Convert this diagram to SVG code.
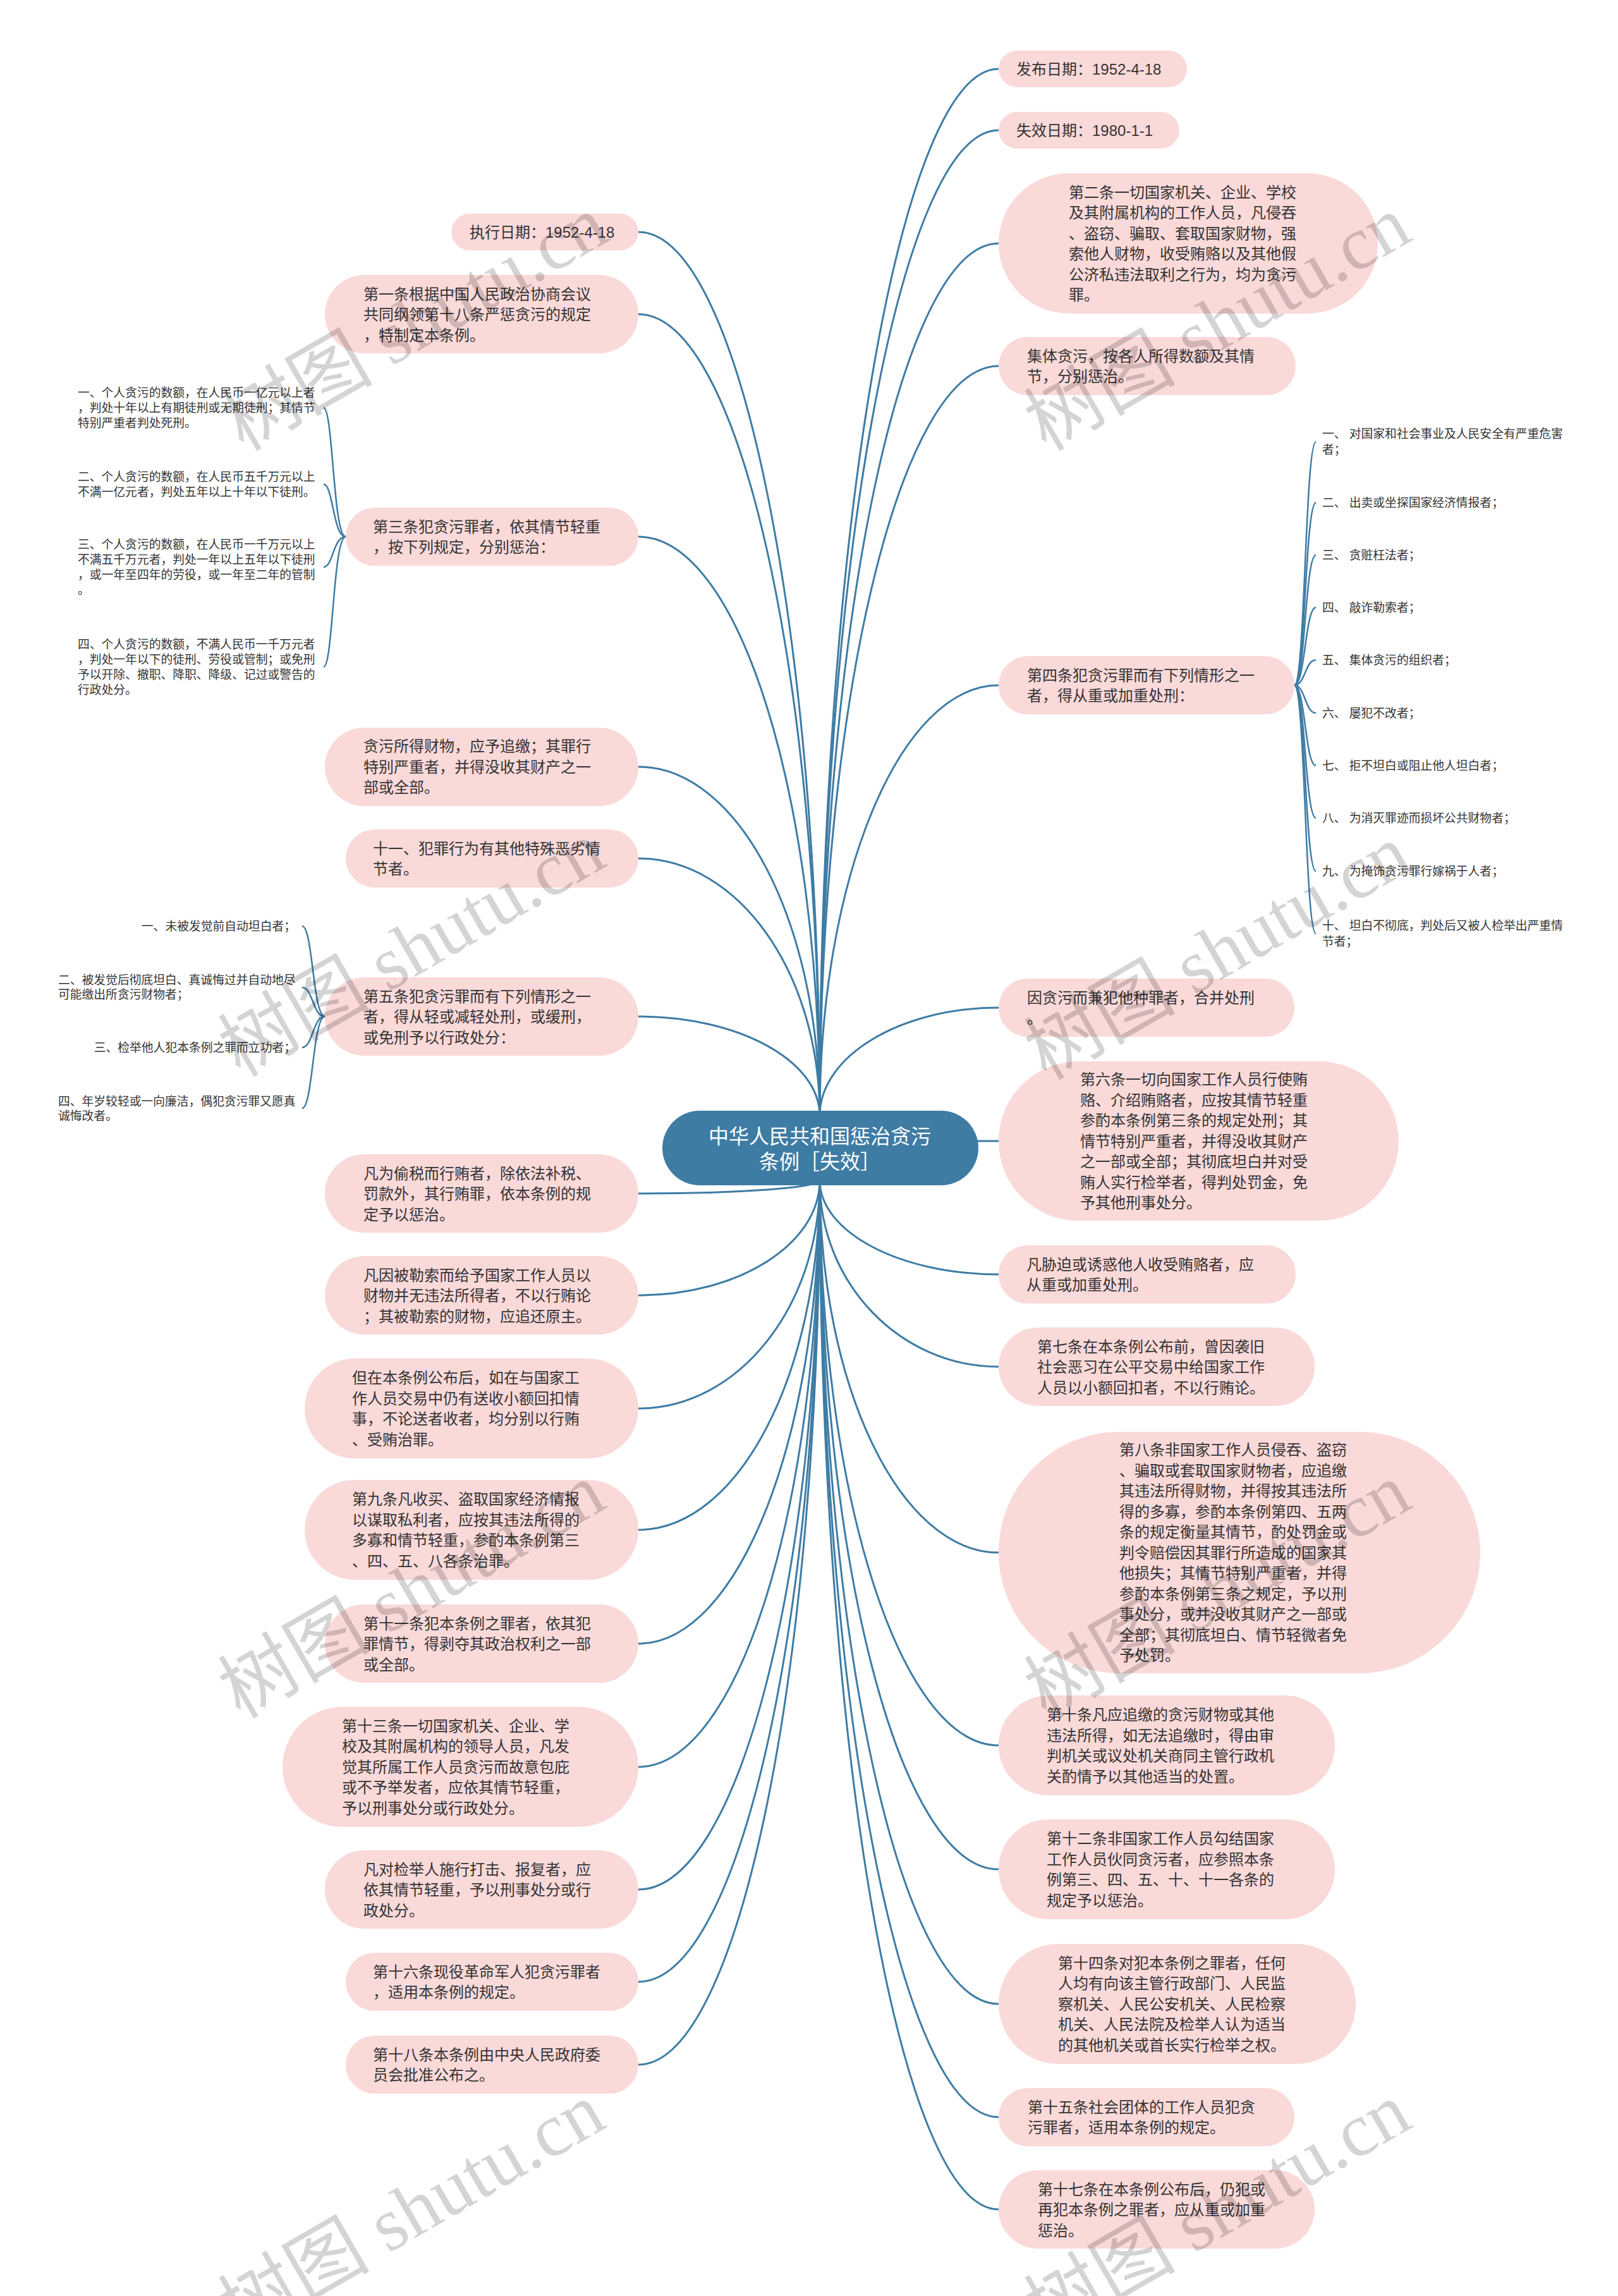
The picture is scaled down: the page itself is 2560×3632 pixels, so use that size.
<svg xmlns="http://www.w3.org/2000/svg" width="2560" height="3632" viewBox="0 0 2560 3632">
<style>
.bg{fill:#ffffff}
.n{fill:#fad9d9}
.c{fill:#3e7ca4}
.t{font-family:"Liberation Sans","Noto Sans CJK SC",sans-serif;font-size:24px;fill:#333333}
.ct{font-family:"Liberation Sans","Noto Sans CJK SC",sans-serif;font-size:32px;fill:#ffffff;text-anchor:middle}
.lf{font-family:"Liberation Sans","Noto Sans CJK SC",sans-serif;font-size:18.8px;fill:#333333}
.ln{fill:none;stroke:#3e7ca4;stroke-width:3}
.br{fill:none;stroke:#3e7ca4;stroke-width:2.5}
.wm{font-family:"Liberation Serif","Noto Sans CJK SC",serif;font-size:120px;fill:#000000;fill-opacity:0.17}
</style>
<rect class="bg" x="0" y="0" width="2560" height="3632"/>
<g id="connectors">
<path class="ln" d="M1297 1765 C1297 850 1424 109 1580 109"/>
<path class="ln" d="M1297 1765 C1297 904 1424 206 1580 206"/>
<path class="ln" d="M1297 1765 C1297 1003 1424 385 1580 385"/>
<path class="ln" d="M1297 1765 C1297 1110 1424 579 1580 579"/>
<path class="ln" d="M1297 1765 C1297 1389 1424 1084 1580 1084"/>
<path class="ln" d="M1297 1765 C1297 1671 1424 1594 1580 1594"/>
<path class="ln" d="M1297 1805 L1580 1805"/>
<path class="ln" d="M1297 1867 C1297 1949 1424 2016 1580 2016"/>
<path class="ln" d="M1297 1867 C1297 2030 1424 2162 1580 2162"/>
<path class="ln" d="M1297 1867 C1297 2192 1424 2456 1580 2456"/>
<path class="ln" d="M1297 1867 C1297 2361 1424 2761 1580 2761"/>
<path class="ln" d="M1297 1867 C1297 2469 1424 2957 1580 2957"/>
<path class="ln" d="M1297 1867 C1297 2587 1424 3170 1580 3170"/>
<path class="ln" d="M1297 1867 C1297 2686 1424 3349 1580 3349"/>
<path class="ln" d="M1297 1867 C1297 2766 1424 3495 1580 3495"/>
<path class="ln" d="M1297 1765 C1297 993 1169 367 1010 367"/>
<path class="ln" d="M1297 1765 C1297 1065 1169 497 1010 497"/>
<path class="ln" d="M1297 1765 C1297 1259 1169 849 1010 849"/>
<path class="ln" d="M1297 1765 C1297 1460 1169 1213 1010 1213"/>
<path class="ln" d="M1297 1765 C1297 1540 1169 1358 1010 1358"/>
<path class="ln" d="M1297 1765 C1297 1678 1169 1608 1010 1608"/>
<path class="ln" d="M1297 1867 C1297 1879 1169 1888 1010 1888"/>
<path class="ln" d="M1297 1867 C1297 1968 1169 2049 1010 2049"/>
<path class="ln" d="M1297 1867 C1297 2066 1169 2228 1010 2228"/>
<path class="ln" d="M1297 1867 C1297 2172 1169 2420 1010 2420"/>
<path class="ln" d="M1297 1867 C1297 2272 1169 2600 1010 2600"/>
<path class="ln" d="M1297 1867 C1297 2380 1169 2795 1010 2795"/>
<path class="ln" d="M1297 1867 C1297 2487 1169 2989 1010 2989"/>
<path class="ln" d="M1297 1867 C1297 2567 1169 3135 1010 3135"/>
<path class="ln" d="M1297 1867 C1297 2640 1169 3266 1010 3266"/>
<path class="br" d="M547 849 C527 849 527 645 512 645"/>
<path class="br" d="M547 849 C527 849 527 766 512 766"/>
<path class="br" d="M547 849 C527 849 527 897 512 897"/>
<path class="br" d="M547 849 C527 849 527 1055 512 1055"/>
<path class="br" d="M514 1608 C495 1608 495 1465 478 1465"/>
<path class="br" d="M514 1608 C495 1608 495 1562 478 1562"/>
<path class="br" d="M514 1608 C495 1608 495 1657 478 1657"/>
<path class="br" d="M514 1608 C495 1608 495 1753 478 1753"/>
<path class="br" d="M2048 1084 C2065 1084 2065 699 2082 699"/>
<path class="br" d="M2048 1084 C2065 1084 2065 795 2082 795"/>
<path class="br" d="M2048 1084 C2065 1084 2065 878 2082 878"/>
<path class="br" d="M2048 1084 C2065 1084 2065 961 2082 961"/>
<path class="br" d="M2048 1084 C2065 1084 2065 1044 2082 1044"/>
<path class="br" d="M2048 1084 C2065 1084 2065 1128 2082 1128"/>
<path class="br" d="M2048 1084 C2065 1084 2065 1211 2082 1211"/>
<path class="br" d="M2048 1084 C2065 1084 2065 1294 2082 1294"/>
<path class="br" d="M2048 1084 C2065 1084 2065 1378 2082 1378"/>
<path class="br" d="M2048 1084 C2065 1084 2065 1477 2082 1477"/>
</g>
<g id="root">
<rect class="c" x="1048" y="1757" width="500" height="118" rx="59"/>
<text class="ct"><tspan x="1297" y="1809">中华人民共和国惩治贪污</tspan><tspan x="1297" y="1849">条例［失效］</tspan></text>
</g>
<g id="n-zhixing"><rect class="n" x="714" y="338" width="296" height="58" rx="29"/>
<text class="t" x="743" y="376">执行日期：1952-4-18</text></g>
<g id="n-1"><rect class="n" x="514" y="435" width="496" height="124" rx="62"/>
<text class="t"><tspan x="575" y="474">第一条根据中国人民政治协商会议</tspan><tspan x="575" y="506">共同纲领第十八条严惩贪污的规定</tspan><tspan x="575" y="539">，特制定本条例。</tspan></text></g>
<g id="n-3"><rect class="n" x="547" y="803" width="463" height="92" rx="46"/>
<text class="t"><tspan x="590" y="842">第三条犯贪污罪者，依其情节轻重</tspan><tspan x="590" y="874">，按下列规定，分别惩治：</tspan></text></g>
<g id="n-3-1"><text class="lf"><tspan x="123" y="628">一、个人贪污的数额，在人民币一亿元以上者</tspan><tspan x="123" y="652">，判处十年以上有期徒刑或无期徒刑；其情节</tspan><tspan x="123" y="676">特别严重者判处死刑。</tspan></text></g>
<g id="n-3-2"><text class="lf"><tspan x="123" y="761">二、个人贪污的数额，在人民币五千万元以上</tspan><tspan x="123" y="785">不满一亿元者，判处五年以上十年以下徒刑。</tspan></text></g>
<g id="n-3-3"><text class="lf"><tspan x="123" y="868">三、个人贪污的数额，在人民币一千万元以上</tspan><tspan x="123" y="892">不满五千万元者，判处一年以上五年以下徒刑</tspan><tspan x="123" y="916">，或一年至四年的劳役，或一年至二年的管制</tspan><tspan x="123" y="940">。</tspan></text></g>
<g id="n-3-4"><text class="lf"><tspan x="123" y="1026">四、个人贪污的数额，不满人民币一千万元者</tspan><tspan x="123" y="1050">，判处一年以下的徒刑、劳役或管制；或免刑</tspan><tspan x="123" y="1074">予以开除、撤职、降职、降级、记过或警告的</tspan><tspan x="123" y="1098">行政处分。</tspan></text></g>
<g id="n-zhuijiao"><rect class="n" x="514" y="1151" width="496" height="124" rx="62"/>
<text class="t"><tspan x="575" y="1189">贪污所得财物，应予追缴；其罪行</tspan><tspan x="575" y="1222">特别严重者，并得没收其财产之一</tspan><tspan x="575" y="1254">部或全部。</tspan></text></g>
<g id="n-11x"><rect class="n" x="547" y="1312" width="463" height="92" rx="46"/>
<text class="t"><tspan x="590" y="1351">十一、犯罪行为有其他特殊恶劣情</tspan><tspan x="590" y="1383">节者。</tspan></text></g>
<g id="n-5"><rect class="n" x="514" y="1546" width="496" height="124" rx="62"/>
<text class="t"><tspan x="575" y="1585">第五条犯贪污罪而有下列情形之一</tspan><tspan x="575" y="1617">者，得从轻或减轻处刑，或缓刑，</tspan><tspan x="575" y="1650">或免刑予以行政处分：</tspan></text></g>
<g id="n-5-1"><text class="lf" x="468" y="1472" text-anchor="end">一、未被发觉前自动坦白者；</text></g>
<g id="n-5-2"><text class="lf"><tspan x="92" y="1557">二、被发觉后彻底坦白、真诚悔过并自动地尽</tspan><tspan x="92" y="1580">可能缴出所贪污财物者；</tspan></text></g>
<g id="n-5-3"><text class="lf" x="468" y="1664" text-anchor="end">三、检举他人犯本条例之罪而立功者；</text></g>
<g id="n-5-4"><text class="lf"><tspan x="92" y="1749">四、年岁较轻或一向廉洁，偶犯贪污罪又愿真</tspan><tspan x="92" y="1772">诚悔改者。</tspan></text></g>
<g id="n-toushui"><rect class="n" x="514" y="1826" width="496" height="124" rx="62"/>
<text class="t"><tspan x="575" y="1865">凡为偷税而行贿者，除依法补税、</tspan><tspan x="575" y="1897">罚款外，其行贿罪，依本条例的规</tspan><tspan x="575" y="1930">定予以惩治。</tspan></text></g>
<g id="n-lesuo"><rect class="n" x="514" y="1987" width="496" height="124" rx="62"/>
<text class="t"><tspan x="575" y="2026">凡因被勒索而给予国家工作人员以</tspan><tspan x="575" y="2058">财物并无违法所得者，不以行贿论</tspan><tspan x="575" y="2091">；其被勒索的财物，应追还原主。</tspan></text></g>
<g id="n-huikou"><rect class="n" x="482" y="2149" width="528" height="158" rx="79"/>
<text class="t"><tspan x="557" y="2188">但在本条例公布后，如在与国家工</tspan><tspan x="557" y="2221">作人员交易中仍有送收小额回扣情</tspan><tspan x="557" y="2253">事，不论送者收者，均分别以行贿</tspan><tspan x="557" y="2286">、受贿治罪。</tspan></text></g>
<g id="n-9"><rect class="n" x="482" y="2341" width="528" height="158" rx="79"/>
<text class="t"><tspan x="557" y="2380">第九条凡收买、盗取国家经济情报</tspan><tspan x="557" y="2413">以谋取私利者，应按其违法所得的</tspan><tspan x="557" y="2445">多寡和情节轻重，参酌本条例第三</tspan><tspan x="557" y="2478">、四、五、八各条治罪。</tspan></text></g>
<g id="n-11"><rect class="n" x="514" y="2538" width="496" height="124" rx="62"/>
<text class="t"><tspan x="575" y="2577">第十一条犯本条例之罪者，依其犯</tspan><tspan x="575" y="2609">罪情节，得剥夺其政治权利之一部</tspan><tspan x="575" y="2642">或全部。</tspan></text></g>
<g id="n-13"><rect class="n" x="447" y="2700" width="563" height="190" rx="95"/>
<text class="t"><tspan x="541" y="2739">第十三条一切国家机关、企业、学</tspan><tspan x="541" y="2771">校及其附属机构的领导人员，凡发</tspan><tspan x="541" y="2804">觉其所属工作人员贪污而故意包庇</tspan><tspan x="541" y="2836">或不予举发者，应依其情节轻重，</tspan><tspan x="541" y="2869">予以刑事处分或行政处分。</tspan></text></g>
<g id="n-baofu"><rect class="n" x="514" y="2927" width="496" height="124" rx="62"/>
<text class="t"><tspan x="575" y="2966">凡对检举人施行打击、报复者，应</tspan><tspan x="575" y="2998">依其情节轻重，予以刑事处分或行</tspan><tspan x="575" y="3031">政处分。</tspan></text></g>
<g id="n-16"><rect class="n" x="547" y="3089" width="463" height="92" rx="46"/>
<text class="t"><tspan x="590" y="3128">第十六条现役革命军人犯贪污罪者</tspan><tspan x="590" y="3160">，适用本条例的规定。</tspan></text></g>
<g id="n-18"><rect class="n" x="547" y="3220" width="463" height="92" rx="46"/>
<text class="t"><tspan x="590" y="3259">第十八条本条例由中央人民政府委</tspan><tspan x="590" y="3291">员会批准公布之。</tspan></text></g>
<g id="n-fabu"><rect class="n" x="1580" y="80" width="298" height="58" rx="29"/>
<text class="t" x="1608" y="118">发布日期：1952-4-18</text></g>
<g id="n-shixiao"><rect class="n" x="1580" y="177" width="286" height="58" rx="29"/>
<text class="t" x="1608" y="215">失效日期：1980-1-1</text></g>
<g id="n-2"><rect class="n" x="1580" y="274" width="600" height="222" rx="111"/>
<text class="t"><tspan x="1691" y="313">第二条一切国家机关、企业、学校</tspan><tspan x="1691" y="345">及其附属机构的工作人员，凡侵吞</tspan><tspan x="1691" y="378">、盗窃、骗取、套取国家财物，强</tspan><tspan x="1691" y="410">索他人财物，收受贿赂以及其他假</tspan><tspan x="1691" y="443">公济私违法取利之行为，均为贪污</tspan><tspan x="1691" y="475">罪。</tspan></text></g>
<g id="n-jiti"><rect class="n" x="1580" y="533" width="470" height="92" rx="46"/>
<text class="t"><tspan x="1625" y="572">集体贪污，按各人所得数额及其情</tspan><tspan x="1625" y="604">节，分别惩治。</tspan></text></g>
<g id="n-4"><rect class="n" x="1580" y="1038" width="468" height="92" rx="46"/>
<text class="t"><tspan x="1625" y="1077">第四条犯贪污罪而有下列情形之一</tspan><tspan x="1625" y="1109">者，得从重或加重处刑：</tspan></text></g>
<g id="n-4-1"><text class="lf"><tspan x="2092" y="693">一、 对国家和社会事业及人民安全有严重危害</tspan><tspan x="2092" y="718">者；</tspan></text></g>
<g id="n-4-2"><text class="lf" x="2092" y="802">二、 出卖或坐探国家经济情报者；</text></g>
<g id="n-4-3"><text class="lf" x="2092" y="885">三、 贪赃枉法者；</text></g>
<g id="n-4-4"><text class="lf" x="2092" y="968">四、 敲诈勒索者；</text></g>
<g id="n-4-5"><text class="lf" x="2092" y="1051">五、 集体贪污的组织者；</text></g>
<g id="n-4-6"><text class="lf" x="2092" y="1135">六、 屡犯不改者；</text></g>
<g id="n-4-7"><text class="lf" x="2092" y="1218">七、 拒不坦白或阻止他人坦白者；</text></g>
<g id="n-4-8"><text class="lf" x="2092" y="1301">八、 为消灭罪迹而损坏公共财物者；</text></g>
<g id="n-4-9"><text class="lf" x="2092" y="1385">九、 为掩饰贪污罪行嫁祸于人者；</text></g>
<g id="n-4-10"><text class="lf"><tspan x="2092" y="1471">十、 坦白不彻底，判处后又被人检举出严重情</tspan><tspan x="2092" y="1496">节者；</tspan></text></g>
<g id="n-jianfan"><rect class="n" x="1580" y="1548" width="468" height="92" rx="46"/>
<text class="t"><tspan x="1625" y="1587">因贪污而兼犯他种罪者，合并处刑</tspan><tspan x="1625" y="1619">。</tspan></text></g>
<g id="n-6"><rect class="n" x="1580" y="1679" width="633" height="252" rx="126"/>
<text class="t"><tspan x="1709" y="1716">第六条一切向国家工作人员行使贿</tspan><tspan x="1709" y="1749">赂、介绍贿赂者，应按其情节轻重</tspan><tspan x="1709" y="1781">参酌本条例第三条的规定处刑；其</tspan><tspan x="1709" y="1814">情节特别严重者，并得没收其财产</tspan><tspan x="1709" y="1846">之一部或全部；其彻底坦白并对受</tspan><tspan x="1709" y="1879">贿人实行检举者，得判处罚金，免</tspan><tspan x="1709" y="1911">予其他刑事处分。</tspan></text></g>
<g id="n-xiepo"><rect class="n" x="1580" y="1970" width="470" height="92" rx="46"/>
<text class="t"><tspan x="1624" y="2009">凡胁迫或诱惑他人收受贿赂者，应</tspan><tspan x="1624" y="2041">从重或加重处刑。</tspan></text></g>
<g id="n-7"><rect class="n" x="1580" y="2100" width="500" height="124" rx="62"/>
<text class="t"><tspan x="1641" y="2139">第七条在本条例公布前，曾因袭旧</tspan><tspan x="1641" y="2171">社会恶习在公平交易中给国家工作</tspan><tspan x="1641" y="2204">人员以小额回扣者，不以行贿论。</tspan></text></g>
<g id="n-8"><rect class="n" x="1580" y="2265" width="762" height="382" rx="191"/>
<text class="t"><tspan x="1771" y="2302">第八条非国家工作人员侵吞、盗窃</tspan><tspan x="1771" y="2335">、骗取或套取国家财物者，应追缴</tspan><tspan x="1771" y="2367">其违法所得财物，并得按其违法所</tspan><tspan x="1771" y="2400">得的多寡，参酌本条例第四、五两</tspan><tspan x="1771" y="2432">条的规定衡量其情节，酌处罚金或</tspan><tspan x="1771" y="2465">判令赔偿因其罪行所造成的国家其</tspan><tspan x="1771" y="2497">他损失；其情节特别严重者，并得</tspan><tspan x="1771" y="2530">参酌本条例第三条之规定，予以刑</tspan><tspan x="1771" y="2562">事处分，或并没收其财产之一部或</tspan><tspan x="1771" y="2595">全部；其彻底坦白、情节轻微者免</tspan><tspan x="1771" y="2627">予处罚。</tspan></text></g>
<g id="n-10"><rect class="n" x="1580" y="2682" width="532" height="158" rx="79"/>
<text class="t"><tspan x="1656" y="2721">第十条凡应追缴的贪污财物或其他</tspan><tspan x="1656" y="2754">违法所得，如无法追缴时，得由审</tspan><tspan x="1656" y="2786">判机关或议处机关商同主管行政机</tspan><tspan x="1656" y="2819">关酌情予以其他适当的处置。</tspan></text></g>
<g id="n-12"><rect class="n" x="1580" y="2878" width="532" height="158" rx="79"/>
<text class="t"><tspan x="1656" y="2917">第十二条非国家工作人员勾结国家</tspan><tspan x="1656" y="2950">工作人员伙同贪污者，应参照本条</tspan><tspan x="1656" y="2982">例第三、四、五、十、十一各条的</tspan><tspan x="1656" y="3015">规定予以惩治。</tspan></text></g>
<g id="n-14"><rect class="n" x="1580" y="3075" width="565" height="190" rx="95"/>
<text class="t"><tspan x="1674" y="3114">第十四条对犯本条例之罪者，任何</tspan><tspan x="1674" y="3146">人均有向该主管行政部门、人民监</tspan><tspan x="1674" y="3179">察机关、人民公安机关、人民检察</tspan><tspan x="1674" y="3211">机关、人民法院及检举人认为适当</tspan><tspan x="1674" y="3244">的其他机关或首长实行检举之权。</tspan></text></g>
<g id="n-15"><rect class="n" x="1580" y="3303" width="468" height="92" rx="46"/>
<text class="t"><tspan x="1626" y="3342">第十五条社会团体的工作人员犯贪</tspan><tspan x="1626" y="3374">污罪者，适用本条例的规定。</tspan></text></g>
<g id="n-17"><rect class="n" x="1580" y="3433" width="500" height="124" rx="62"/>
<text class="t"><tspan x="1642" y="3472">第十七条在本条例公布后，仍犯或</tspan><tspan x="1642" y="3504">再犯本条例之罪者，应从重或加重</tspan><tspan x="1642" y="3537">惩治。</tspan></text></g>
<g id="watermarks">
<text class="wm" transform="translate(385 715) rotate(-30)">树图 shutu.cn</text>
<text class="wm" transform="translate(1655 715) rotate(-30)">树图 shutu.cn</text>
<text class="wm" transform="translate(380 1705) rotate(-30)">树图 shutu.cn</text>
<text class="wm" transform="translate(1655 1710) rotate(-30)">树图 shutu.cn</text>
<text class="wm" transform="translate(380 2720) rotate(-30)">树图 shutu.cn</text>
<text class="wm" transform="translate(1655 2720) rotate(-30)">树图 shutu.cn</text>
<text class="wm" transform="translate(380 3700) rotate(-30)">树图 shutu.cn</text>
<text class="wm" transform="translate(1655 3700) rotate(-30)">树图 shutu.cn</text>
</g>
</svg>
